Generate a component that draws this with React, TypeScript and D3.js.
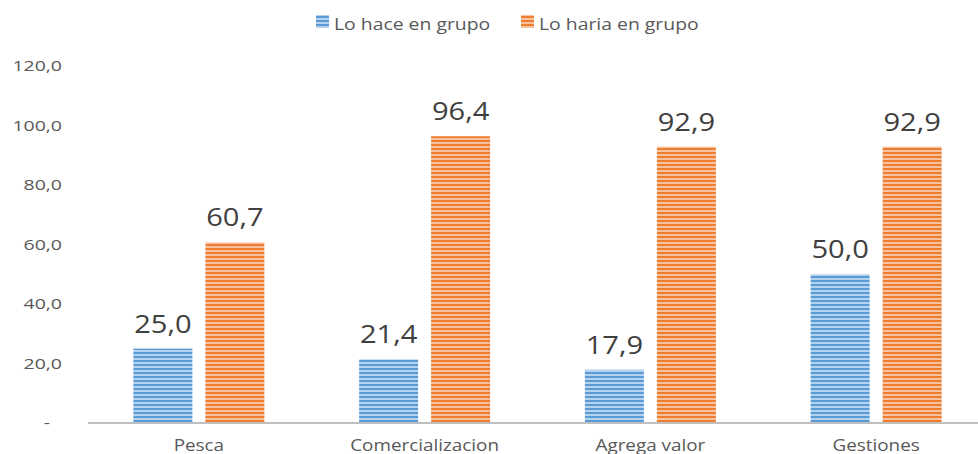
import React from "react";
import * as d3 from "d3";

const categories = ["Pesca", "Comercializacion", "Agrega valor", "Gestiones"];
const seriesNames = ["Lo hace en grupo", "Lo haria en grupo"];
const loHace = [25.0, 21.4, 17.9, 50.0];
const loHaria = [60.7, 96.4, 92.9, 92.9];
const yTicks = [0, 20, 40, 60, 80, 100, 120];

const colors = [
  { dark: "#5B9BD5", light: "#B4D2EE" },
  { dark: "#ED7D31", light: "#F8C29E" },
];

const W = 978;
const H = 454;
const FONT = "'Open Sans', sans-serif";

function SText(props: {
  x: number;
  y: number;
  sx: number;
  size: number;
  fill: string;
  anchor?: "start" | "middle" | "end";
  children: React.ReactNode;
}) {
  return (
    <text
      transform={`translate(${props.x},${props.y}) scale(${props.sx},1)`}
      textAnchor={props.anchor || "start"}
      fontFamily={FONT}
      fontSize={props.size}
      fill={props.fill}
    >
      {props.children}
    </text>
  );
}

export default function App() {
  const x = d3.scaleBand<string>().domain(categories).range([86, 989]).paddingInner(0).paddingOuter(0);
  const y = d3.scaleLinear().domain([0, 120]).range([423, 66]);
  const fmt = (v: number) => (v === 0 ? "-" : v.toFixed(1).replace(".", ","));
  const series = [loHace, loHaria];
  const barW = 59;
  const gap = 13;

  return (
    <svg width={W} height={H} style={{ position: "absolute", left: 0, top: 0, background: "#fff" }}>
      <defs>
        {colors.map((c, i) => (
          <pattern key={i} id={`stripe${i}`} width={4} height={4} patternUnits="userSpaceOnUse">
            <rect width={4} height={4} fill={c.light} />
            <rect width={4} height={2} fill={c.dark} />
          </pattern>
        ))}
      </defs>
      {/* legend */}
      {seriesNames.map((n, i) => {
        const lx = i === 0 ? 316 : 521;
        return (
          <g key={n}>
            <rect x={lx} y={15} width={13} height={13} fill={`url(#stripe${i})`} />
            <SText x={lx + 18} y={30} sx={1.14} size={17} fill="#595959">{n}</SText>
          </g>
        );
      })}
      {/* y ticks */}
      {yTicks.map((t) => (
        <SText key={t} x={t === 0 ? 50 : 62} y={y(t) + 5} sx={1.3} size={15} anchor="end" fill="#595959">
          {fmt(t)}
        </SText>
      ))}
      {/* bars */}
      {categories.map((c, ci) => {
        const cx = (x(c) as number) + x.bandwidth() / 2;
        return series.map((s, si) => {
          const v = s[ci];
          const bx = si === 0 ? cx - gap / 2 - barW : cx + gap / 2;
          return (
            <g key={c + si}>
              <rect x={bx} y={y(v)} width={barW} height={y(0) - y(v)} fill={`url(#stripe${si})`} />
              <SText x={bx + barW / 2} y={y(v) - 16} sx={1.12} size={26} anchor="middle" fill="#404040">
                {fmt(v)}
              </SText>
            </g>
          );
        });
      })}
      {/* axis line */}
      <line x1={88} x2={978} y1={y(0)} y2={y(0)} stroke="#BFBFBF" strokeWidth={2} />
      {categories.map((c) => (
        <SText key={c} x={(x(c) as number) + x.bandwidth() / 2} y={451} sx={1.18} size={16} anchor="middle" fill="#595959">
          {c}
        </SText>
      ))}
    </svg>
  );
}
